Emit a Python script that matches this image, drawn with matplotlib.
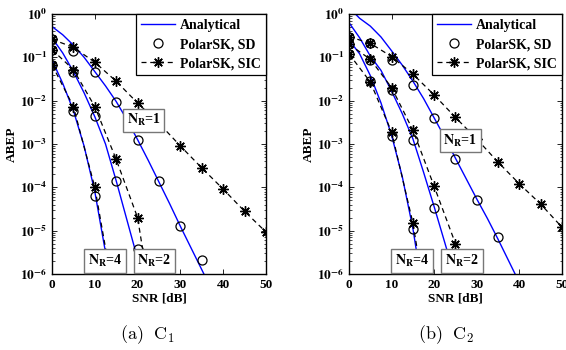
import numpy as np
import matplotlib
matplotlib.use("Agg")
import matplotlib.pyplot as plt
from matplotlib.ticker import FixedLocator, LogLocator, NullFormatter

plt.rcParams['font.family'] = ['Liberation Serif', 'DejaVu Serif']
plt.rcParams['font.weight'] = 'bold'
plt.rcParams['mathtext.fontset'] = 'stix'

# SNR grids (dB)
snr_an = [0, 2.5, 5, 7.5, 10, 12.5, 15, 17.5, 20, 22.5, 25, 27.5, 30, 32.5, 35, 37.5, 40]
snr_sim = [0, 5, 10, 15, 20, 25, 30, 35, 40, 45, 50]

# ---- (a) C1 : analytical curves, log10(ABEP)
c1_an_nr1 = [-0.29, -0.48, -0.72, -1.0, -1.33, -1.66, -2.02, -2.44, -2.9, -3.38, -3.88, -4.38, -4.9, -5.4, -5.9, -6.4, -6.9]
c1_an_nr2 = [-0.55, -0.9, -1.33, -1.82, -2.37, -3.0, -3.85, -4.75, -5.65, -6.6]
c1_an_nr4 = [-1.06, -1.6, -2.23, -3.05, -4.1, -5.5, -7.0]

# SD (circles)
c1_sd_nr1 = [0.26, 0.14, 0.047, 0.0095, 1.25e-3, 1.4e-4, 1.25e-5, 2.1e-6]
c1_sd_nr2 = [0.15, 0.047, 4.4e-3, 1.4e-4, 3.8e-6]
c1_sd_nr4 = [0.067, 5.9e-3, 6.2e-5]

# SIC (stars)
c1_sic_nr1 = [0.26, 0.17, 0.077, 0.028, 8.8e-3, 3.0e-3, 9.0e-4, 2.8e-4, 9.1e-5, 2.8e-5, 9.3e-6]
c1_sic_nr2 = [0.15, 0.052, 7.3e-3, 4.4e-4, 2.0e-5, 1.6e-8]
c1_sic_nr4 = [0.067, 7.3e-3, 1.0e-4, 1.6e-7]

# ---- (b) C2
c2_an_nr1 = [0.15, -0.1, -0.28, -0.53, -0.85, -1.18, -1.55, -1.95, -2.4, -2.85, -3.33, -3.8, -4.27, -4.72, -5.2, -5.7, -6.2]
c2_an_nr2 = [-0.2, -0.55, -0.97, -1.3, -1.78, -2.3, -2.88, -3.65, -4.45, -5.28, -6.12]
c2_an_nr4 = [-0.6, -0.92, -1.42, -2.05, -2.8, -3.75, -4.95, -6.5]

c2_sd_nr1 = [0.30, 0.21, 0.087, 0.023, 4.0e-3, 4.6e-4, 5.2e-5, 7.1e-6]
c2_sd_nr2 = [0.20, 0.087, 0.018, 1.26e-3, 3.3e-5]
c2_sd_nr4 = [0.12, 0.028, 1.5e-3, 1.1e-5]

c2_sic_nr1 = [0.30, 0.21, 0.104, 0.041, 0.0135, 4.1e-3, 1.3e-3, 3.8e-4, 1.2e-4, 4.1e-5, 1.2e-5]
c2_sic_nr2 = [0.20, 0.09, 0.02, 2.1e-3, 1.05e-4, 5.0e-6, 1.0e-8]
c2_sic_nr4 = [0.12, 0.027, 1.9e-3, 1.5e-5, 1.5e-8]

panels = [
    dict(an=[c1_an_nr1, c1_an_nr2, c1_an_nr4],
         sd=[c1_sd_nr1, c1_sd_nr2, c1_sd_nr4],
         sic=[c1_sic_nr1, c1_sic_nr2, c1_sic_nr4],
         pos=[0.0919, 0.2171, 0.378, 0.743],
         boxes=[(0.428, 0.592, 1), (0.248, 0.05, 4), (0.479, 0.05, 2)],
         caption=(0.261, r'$\mathrm{(a)\ \ C_1}$')),
    dict(an=[c2_an_nr1, c2_an_nr2, c2_an_nr4],
         sd=[c2_sd_nr1, c2_sd_nr2, c2_sd_nr4],
         sic=[c2_sic_nr1, c2_sic_nr2, c2_sic_nr4],
         pos=[0.6166, 0.2171, 0.3763, 0.743],
         boxes=[(0.523, 0.512, 1), (0.296, 0.05, 4), (0.531, 0.05, 2)],
         caption=(0.788, r'$\mathrm{(b)\ \ C_2}$')),
]

fig = plt.figure(figsize=(5.66, 3.5), dpi=100)

for p in panels:
    ax = fig.add_axes(p['pos'])
    for k in range(3):
        a = p['an'][k]
        ax.semilogy(snr_an[:len(a)], 10 ** np.array(a), '-', color='#0000ff', lw=1.0,
                    label='Analytical' if k == 0 else None)
    for k in range(3):
        s = p['sd'][k]
        ax.semilogy(snr_sim[:len(s)], s, 'o', mfc='none', mec='k', ms=6.5, mew=0.9,
                    label='PolarSK, SD' if k == 0 else None)
    for k in range(3):
        s = p['sic'][k]
        ax.semilogy(snr_sim[:len(s)], s, '--', color='k', lw=0.9, marker=(8, 2, 0),
                    ms=7.5, mew=1.0, dashes=(4, 3),
                    label='PolarSK, SIC' if k == 0 else None)

    ax.set_xlim(0, 50)
    ax.set_ylim(1e-6, 1)
    ax.xaxis.set_major_locator(FixedLocator([0, 10, 20, 30, 40, 50]))
    ax.yaxis.set_major_locator(FixedLocator([10.0 ** e for e in range(-6, 1)]))
    ax.set_yticklabels([r'$\mathbf{10^{%d}}$' % e for e in range(-6, 1)])
    ax.yaxis.set_minor_locator(LogLocator(base=10, subs=np.arange(2, 10), numticks=20))
    ax.yaxis.set_minor_formatter(NullFormatter())
    ax.tick_params(which='both', direction='in', top=True, right=True, labelsize=9.5)
    ax.tick_params(which='major', length=3.5, width=0.6)
    ax.tick_params(which='minor', length=1.8, width=0.5)
    for sp in ax.spines.values():
        sp.set_linewidth(1.0)
    ax.set_xlabel('SNR [dB]', fontsize=9.5, fontweight='bold', labelpad=1)
    ax.set_ylabel('ABEP', fontsize=9.5, fontweight='bold', labelpad=2)

    leg = ax.legend(loc='upper right', borderaxespad=0, fancybox=False, framealpha=1,
                    edgecolor='k', fontsize=10, handlelength=2.4, handletextpad=0.4,
                    borderpad=0.35, labelspacing=0.45)
    leg.get_frame().set_linewidth(0.9)
    for t in leg.get_texts():
        t.set_fontweight('bold')

    for bx, by, nr in p['boxes']:
        ax.text(bx, by, r'$\mathbf{N_R}$' + '=%d' % nr, transform=ax.transAxes,
                ha='center', va='center', fontsize=10, fontweight='bold', zorder=5,
                bbox=dict(boxstyle='square,pad=0.25', fc='white', ec='#777777', lw=1.0))

    cx, cap = p['caption']
    fig.text(cx, 0.045, cap, ha='center', va='center', fontsize=13,
             fontweight='normal', math_fontfamily='cm')

fig.savefig('out.png', dpi=100)
